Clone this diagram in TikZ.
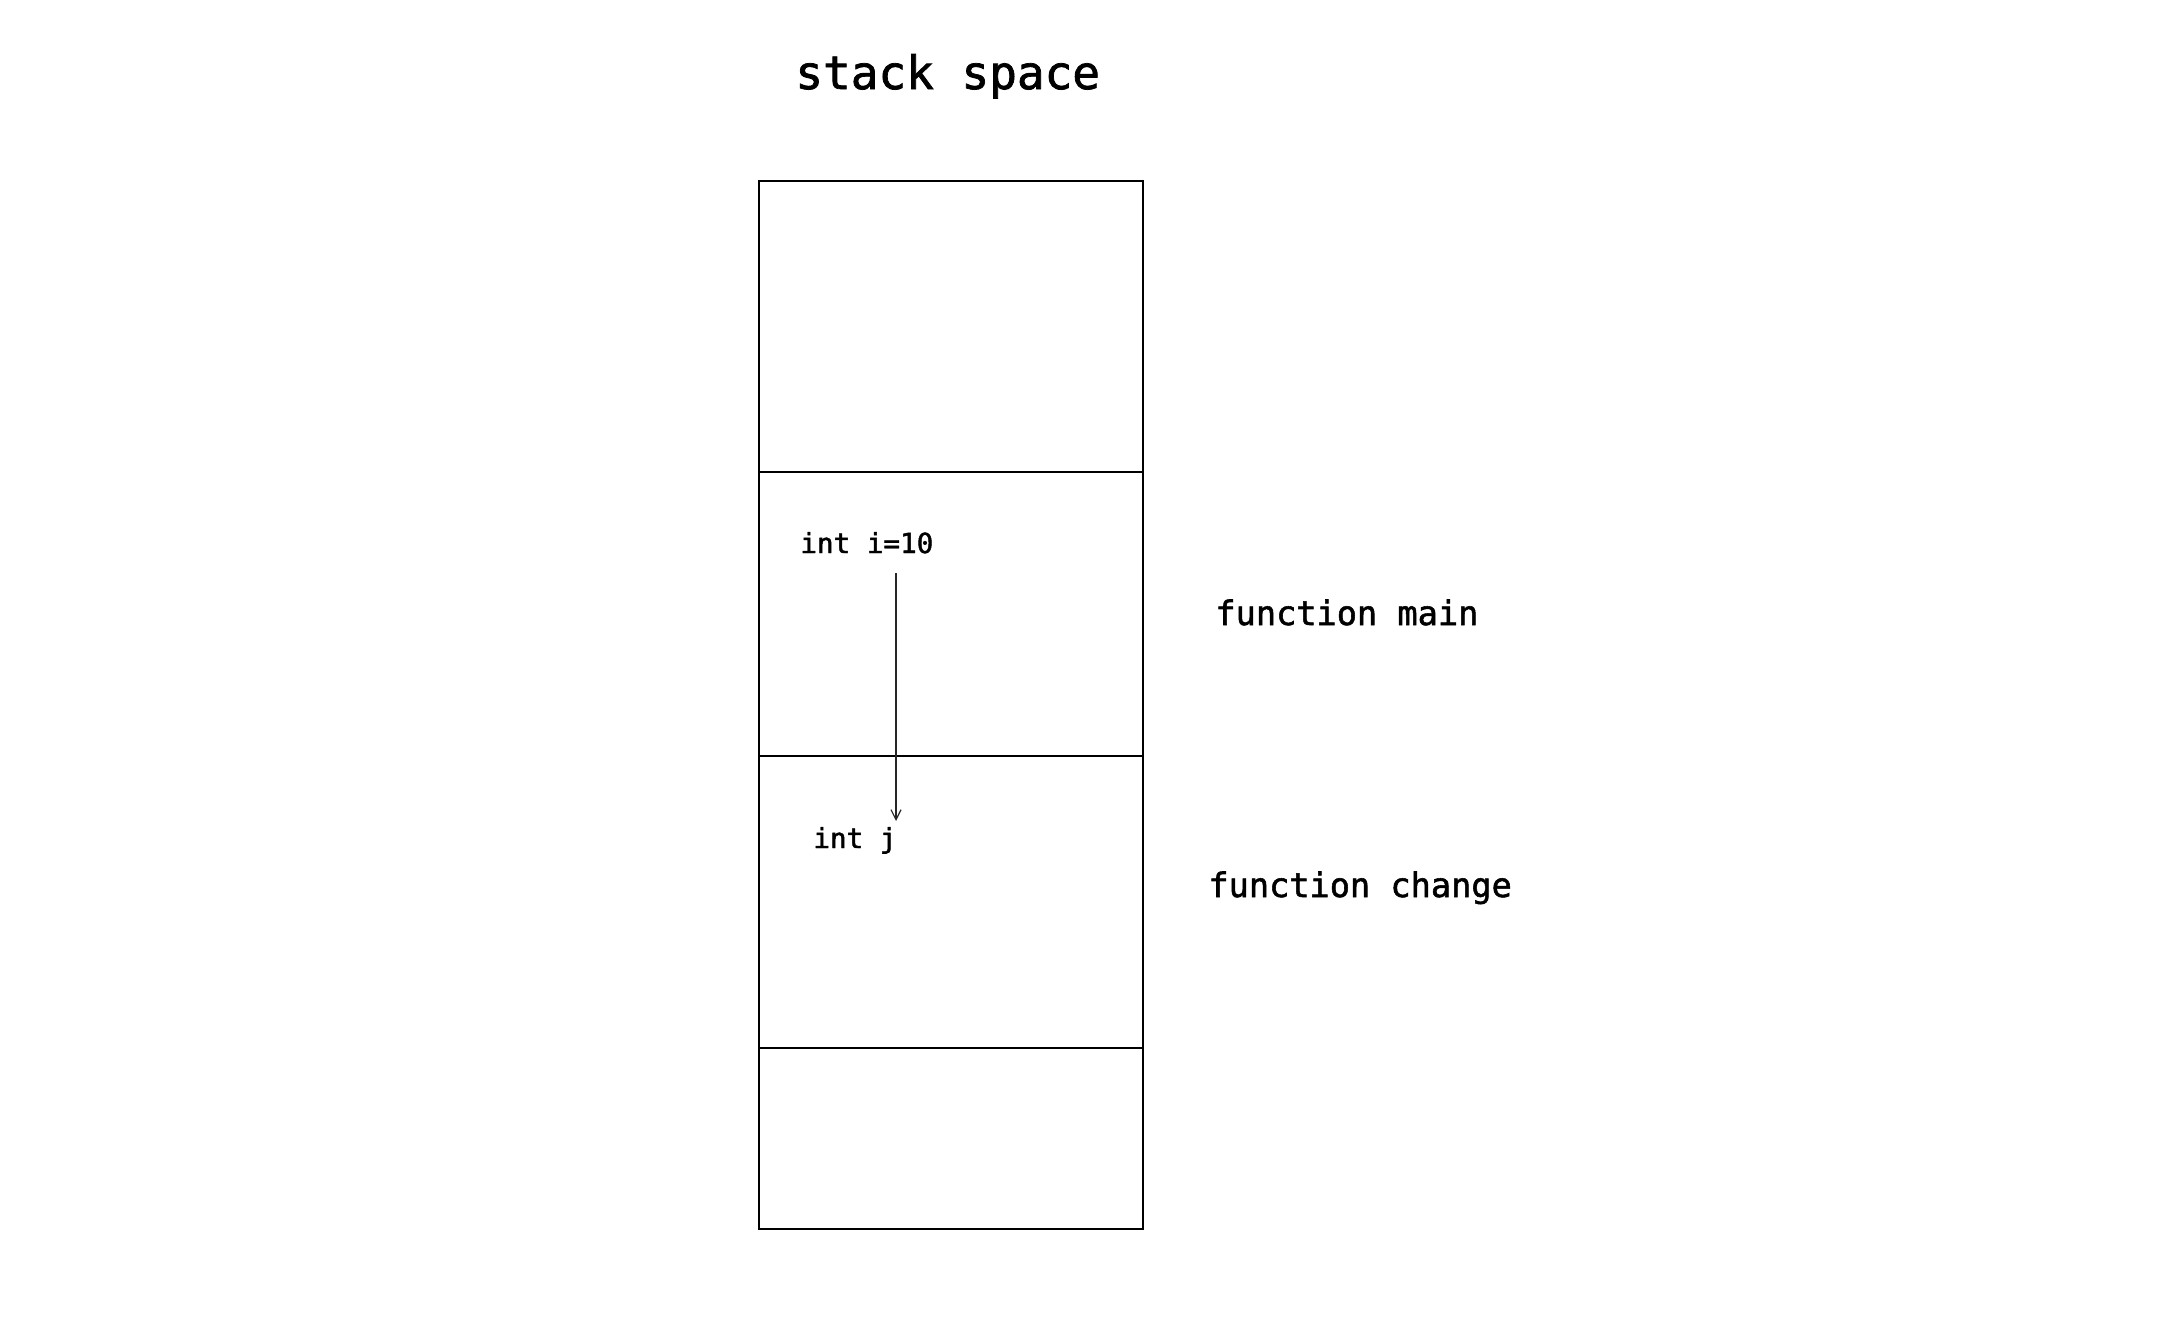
\documentclass[tikz,border=0pt]{standalone}
\usepackage{fontspec}
\setmonofont[RawFeature={embolden=1.6}]{DejaVu Sans Mono}
\usetikzlibrary{arrows.meta,positioning}
\begin{document}
\begin{tikzpicture}[x=0.5pt,y=-0.5pt,
  cell/.style={draw=black,line width=1pt,minimum width=192pt,inner sep=0pt,anchor=north west,fill=none},
  lbl/.style={inner sep=0pt,anchor=base west,font=\ttfamily,text=black},
  link/.style={draw=black!85,line width=0.6pt,-{Straight Barb[length=5pt,width=5pt]}}]
\useasboundingbox (0,0) rectangle (2164,1324);
% stack cells
\node[cell,minimum height=145.5pt] (c1) at (758,180) {};
\node[cell,minimum height=142pt] (c2) at (758,471) {};
\node[cell,minimum height=146pt] (c3) at (758,755) {};
\node[cell,minimum height=90.5pt] (c4) at (758,1047) {};
% labels
\node[lbl,font=\ttfamily\fontsize{23}{27}\selectfont] (title) at (795,89) {stack space};
\node[lbl,font=\ttfamily\fontsize{13.8}{16}\selectfont] (i) at (800,553) {int i=10};
\node[lbl,font=\ttfamily\fontsize{13.8}{16}\selectfont] (j) at (813,848) {int j};
\node[lbl,font=\ttfamily\fontsize{16.8}{20}\selectfont] (fmain) at (1215,625) {function main};
\node[lbl,font=\ttfamily\fontsize{16.8}{20}\selectfont] (fchange) at (1208,897) {function change};
% arrow
\coordinate (astart) at (896,573);
\coordinate (aend) at (896,821);
\draw[link] (astart) -- (aend);
\end{tikzpicture}
\end{document}
